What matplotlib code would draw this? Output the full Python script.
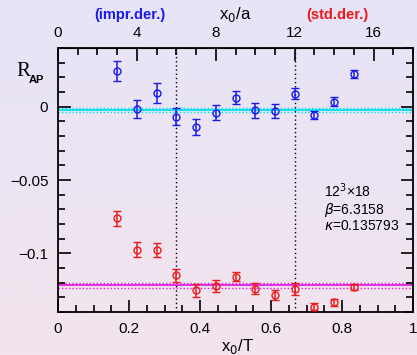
import numpy as np
import matplotlib
matplotlib.use("Agg")
import matplotlib.pyplot as plt
from matplotlib.ticker import MultipleLocator

plt.rcParams['font.family'] = ['Liberation Sans', 'DejaVu Sans']

# x0/a values (T = 18)
x0a = [3, 4, 5, 6, 7, 8, 9, 10, 11, 12, 13, 14, 15]
T = 18

# improved derivative (blue)
impr_val = [0.0244, -0.0016, 0.0096, -0.0068, -0.0137, -0.0041, 0.0062,
            -0.0025, -0.0030, 0.0089, -0.0057, 0.0034, 0.0221]
impr_err = [0.0066, 0.0062, 0.0068, 0.0058, 0.0055, 0.0050, 0.0043,
            0.0049, 0.0045, 0.0040, 0.0027, 0.0030, 0.0027]

# standard derivative (red)
std_val = [-0.0760, -0.0974, -0.0977, -0.1151, -0.1253, -0.1224, -0.1158,
           -0.1240, -0.1284, -0.1242, -0.1363, -0.1332, -0.1232]
std_err = [0.0051, 0.0048, 0.0048, 0.0045, 0.0043, 0.0042, 0.0032,
           0.0040, 0.0032, 0.0040, 0.0024, 0.0024, 0.0020]

# plateau fits (value, error)
impr_fit = (-0.0022, 0.0014)
std_fit = (-0.1219, 0.0018)

fig = plt.figure(figsize=(4.17, 3.55), dpi=100)

# fond en degrade lavande -> rose
bg = fig.add_axes([0, 0, 1, 1], zorder=-10)
top_c = np.array([230, 228, 247]) / 255
bot_c = np.array([243, 228, 238]) / 255
t = np.linspace(0, 1, 256)[:, None]
grad = top_c[None, :] * (1 - t) + bot_c[None, :] * t
bg.imshow(grad[:, None, :], aspect='auto', extent=[0, 1, 0, 1])
bg.axis('off')

ax = fig.add_axes([58 / 417, 43 / 355, 355 / 417, 264 / 355])
ax.set_facecolor('none')

xt = np.array(x0a) / T
blue = '#1a1aee'
red = '#ee1a1a'
cyan = '#00e0ee'
magenta = '#e020e0'

# bandes des fits
for (v, e), c in [(impr_fit, cyan), (std_fit, magenta)]:
    ax.axhline(v, color=c, lw=1.3, zorder=1)
    ax.axhline(v + e, color=c, lw=1.0, ls=(0, (1, 1.5)), zorder=1)
    ax.axhline(v - e, color=c, lw=1.0, ls=(0, (1, 1.5)), zorder=1)

ax.axvline(1 / 3, color='black', lw=1, ls=(0, (1, 2)), zorder=1)
ax.axvline(2 / 3, color='black', lw=1, ls=(0, (1, 2)), zorder=1)

ax.errorbar(xt, impr_val, yerr=impr_err, fmt='o', mfc='none', mec=blue,
            ecolor=blue, ms=5, mew=1, elinewidth=1.1, capsize=3, capthick=1.1, zorder=3)
ax.errorbar(xt, std_val, yerr=std_err, fmt='o', mfc='none', mec=red,
            ecolor=red, ms=5, mew=1, elinewidth=1.1, capsize=3, capthick=1.1, zorder=3)

ax.set_xlim(0, 1)
ax.set_ylim(-0.14, 0.04)
ax.set_yticks([0, -0.05, -0.1])
ax.set_yticklabels(['0', '\u22120.05', '\u22120.1'])
ax.set_xticks([0, 0.2, 0.4, 0.6, 0.8, 1])
ax.set_xticklabels(['0', '0.2', '0.4', '0.6', '0.8', '1'])
ax.xaxis.set_minor_locator(MultipleLocator(0.05))
ax.yaxis.set_minor_locator(MultipleLocator(0.01))
ax.tick_params(which='both', direction='in', right=True, width=1.2,
               labelsize=11, pad=7)
ax.tick_params(which='major', length=9)
ax.tick_params(which='minor', length=5)
for s in ax.spines.values():
    s.set_linewidth(1.3)

top = ax.secondary_xaxis('top', functions=(lambda x: x * T, lambda a: a / T))
top.set_xticks([0, 4, 8, 12, 16])
top.xaxis.set_minor_locator(MultipleLocator(1))
top.tick_params(which='both', direction='in', width=1.2, labelsize=11, pad=6)
top.tick_params(which='major', length=9)
top.tick_params(which='minor', length=5)

# textes
fig.text(130 / 417, 1 - 15 / 355, '(impr.der.)', color=blue, fontsize=10.5,
         fontweight='bold', ha='center', va='center')
fig.text(337 / 417, 1 - 15 / 355, '(std.der.)', color=red, fontsize=10.5,
         fontweight='bold', ha='center', va='center')
fig.text(235 / 417, 1 - 15 / 355, r'x$_\mathsf{0}$/a', fontsize=12,
         ha='center', va='center')
fig.text(237 / 417, 1 - 347 / 355, r'x$_\mathsf{0}$/T', fontsize=12,
         ha='center', va='center')
fig.text(16 / 417, 1 - 72 / 355, 'R', fontsize=15, family='Liberation Serif',
         ha='left', va='center')
fig.text(29 / 417, 1 - 80 / 355, 'AP', fontsize=8,
         fontweight='bold', ha='left', va='center')

ax.text(0.749, -0.051, '12$^3$\u00d718\n$\\beta$=6.3158\n$\\kappa$=0.135793',
        fontsize=10, ha='left', va='top', linespacing=1.05)

fig.savefig('out.png', dpi=100)
